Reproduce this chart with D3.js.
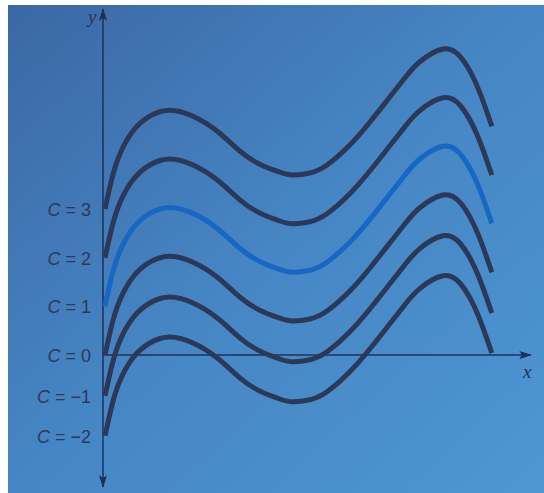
<!DOCTYPE html>
<html>
<head>
<meta charset="utf-8">
<script src="https://cdn.jsdelivr.net/npm/d3@7"></script>
<style>
  html, body { margin: 0; padding: 0; background: #fff; }
  svg { display: block; }
  .lbl { font-family: "Liberation Sans", Arial, sans-serif; font-size: 18px; fill: #2a3a5c; }
  .axlbl { font-family: "Liberation Serif", "DejaVu Serif", serif; font-style: italic; font-size: 19px; fill: #223456; }
</style>
</head>
<body>
<div class="chart"></div>
<script>
// family of curves y = f(x) + C
var cValues = [3, 2, 1, 0, -1, -2];
// vertical shift of each curve as drawn in the figure (y units)
var shifts = [3.65, 2.43, 1.22, 0, -1.02, -2.02];

// base curve f(x), the C = 0 member
var baseX = [0.05, 0.22, 0.42, 0.75, 1.17, 1.67, 2.25, 2.85, 3.42, 3.92, 4.42, 4.75,
             5.17, 5.6, 6.17, 6.67, 7.17, 7.55, 7.92, 8.5, 8.92, 9.25, 9.5, 9.72];
var baseY = [0, 0.75, 1.37, 1.95, 2.32, 2.47, 2.32, 1.95, 1.45, 1.12, 0.92, 0.85,
             0.9, 1.1, 1.6, 2.17, 2.8, 3.28, 3.68, 4.0, 3.82, 3.3, 2.7, 2.07];

var width = 544, height = 493;

var svg = d3.select(".chart").append("svg")
    .attr("width", width)
    .attr("height", height);

var defs = svg.append("defs");
var grad = defs.append("linearGradient")
    .attr("id", "bg")
    .attr("x1", "0%").attr("y1", "0%")
    .attr("x2", "100%").attr("y2", "100%");
grad.append("stop").attr("offset", "0%").attr("stop-color", "#3b68a4");
grad.append("stop").attr("offset", "50%").attr("stop-color", "#4686c4");
grad.append("stop").attr("offset", "100%").attr("stop-color", "#4e96d4");

["ax", "axb"].forEach(function(id) {
  defs.append("marker")
      .attr("id", id)
      .attr("viewBox", "0 -5 14 10")
      .attr("refX", 13).attr("refY", 0)
      .attr("markerWidth", 13).attr("markerHeight", 9)
      .attr("markerUnits", "userSpaceOnUse")
      .attr("orient", "auto")
    .append("path")
      .attr("d", "M0,-4.5L14,0L0,4.5L3,0Z")
      .attr("fill", "#1e3058");
});

// page photo: white margin top and left
svg.append("rect").attr("width", width).attr("height", height).attr("fill", "#fff");
svg.append("rect")
    .attr("x", 8).attr("y", 5)
    .attr("width", width - 8).attr("height", height - 5)
    .attr("fill", "url(#bg)");

var x = d3.scaleLinear().domain([0, 10.7]).range([103, 531]);
var y = d3.scaleLinear().domain([-3.3, 8.65]).range([487, 9]);

// axes
svg.append("line")
    .attr("x1", x(0)).attr("x2", x(0))
    .attr("y1", y(0)).attr("y2", y(8.65))
    .attr("stroke", "#1e3058").attr("stroke-width", 1.5)
    .attr("marker-end", "url(#ax)");
svg.append("line")
    .attr("x1", x(0)).attr("x2", x(0))
    .attr("y1", y(0)).attr("y2", y(-3.3))
    .attr("stroke", "#1e3058").attr("stroke-width", 1.5)
    .attr("marker-end", "url(#axb)");
svg.append("line")
    .attr("x1", x(0)).attr("x2", x(10.7))
    .attr("y1", y(0)).attr("y2", y(0))
    .attr("stroke", "#1e3058").attr("stroke-width", 1.5)
    .attr("marker-end", "url(#ax)");

svg.append("text").attr("class", "axlbl")
    .attr("x", x(0) - 15).attr("y", y(8.65) + 14)
    .text("y");
svg.append("text").attr("class", "axlbl")
    .attr("x", x(10.7) - 8).attr("y", y(0) + 23)
    .text("x");

var base = baseX.map(function(d, i) { return [d, baseY[i]]; });

var line = d3.line()
    .x(function(d) { return x(d[0]); })
    .y(function(d) { return y(d[1]); })
    .curve(d3.curveNatural);

var curves = cValues.map(function(c, i) {
  return { c: c, pts: base.map(function(p) { return [p[0], p[1] + shifts[i]]; }) };
});

svg.append("g").selectAll("path")
    .data(curves)
    .enter().append("path")
    .attr("d", function(d) { return line(d.pts); })
    .attr("fill", "none")
    .attr("stroke", function(d) { return d.c === 1 ? "#1767c4" : "#2c3857"; })
    .attr("stroke-width", 5)
    .attr("stroke-linecap", "butt");

// C = ... labels at the start of each curve
var lbl = svg.append("g").selectAll("text")
    .data(curves)
    .enter().append("text")
    .attr("class", "lbl")
    .attr("text-anchor", "end")
    .attr("x", 91)
    .attr("y", function(d) { return y(d.pts[0][1]) + 7; });
lbl.append("tspan").attr("font-style", "italic").text("C");
lbl.append("tspan").text(function(d) {
  return " = " + (d.c < 0 ? "\u2212" + (-d.c) : d.c);
});
</script>
</body>
</html>
